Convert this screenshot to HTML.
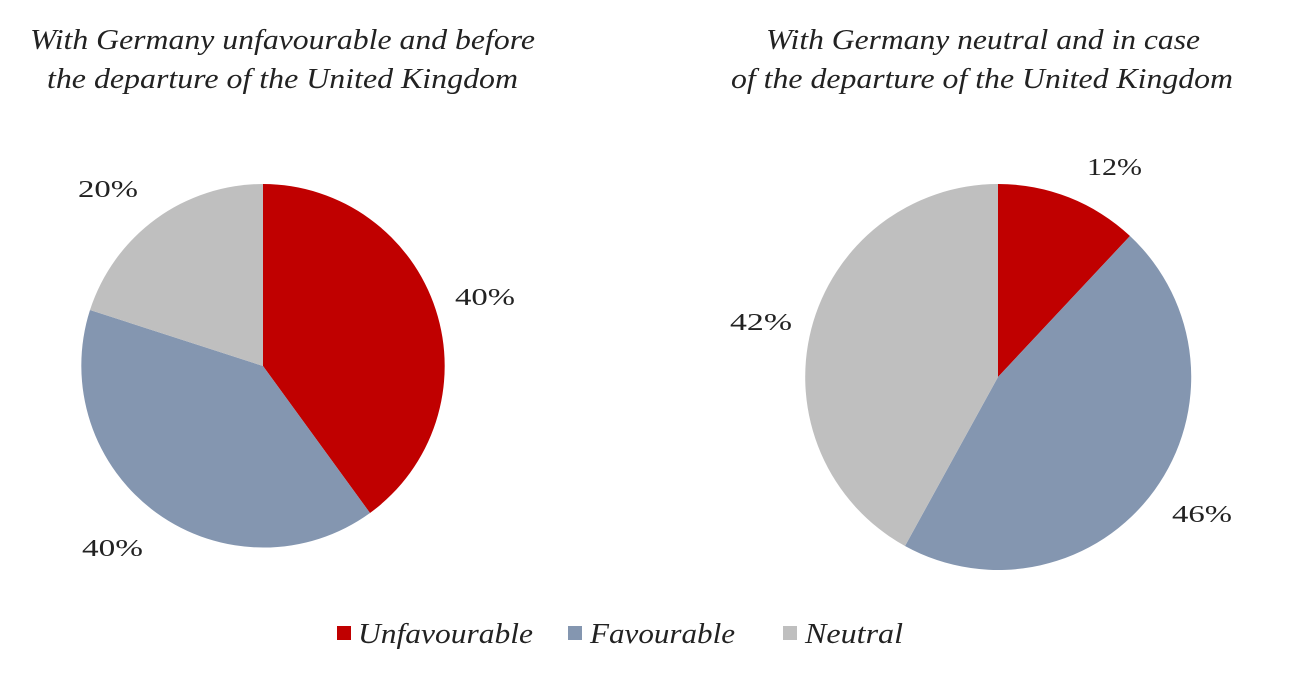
<!DOCTYPE html>
<html><head><style>
body{margin:0;background:#fff;}
svg text{font-family:"Liberation Serif",serif;fill:#222;}
</style></head><body>
<svg width="1301" height="683" viewBox="0 0 1301 683">
<g font-style="italic" font-size="28">
<text x="30" y="49" textLength="505" lengthAdjust="spacingAndGlyphs">With Germany unfavourable and before</text>
<text x="47" y="88" textLength="471" lengthAdjust="spacingAndGlyphs">the departure of the United Kingdom</text>
<text x="766" y="49" textLength="434" lengthAdjust="spacingAndGlyphs">With Germany neutral and in case</text>
<text x="731" y="88" textLength="502" lengthAdjust="spacingAndGlyphs">of the departure of the United Kingdom</text>
</g>
<path d="M263,366 L263,184 A182,182 0 0 1 370,513 Z" fill="#c00000"/>
<path d="M263,366 L370,513 A182,182 0 0 1 90,310 Z" fill="#8496b0"/>
<path d="M263,366 L90,310 A182,182 0 0 1 263,184 Z" fill="#bfbfbf"/>
<path d="M998,377 L998,184 A193,193 0 0 1 1130,236 Z" fill="#c00000"/>
<path d="M998,377 L1130,236 A193,193 0 0 1 905,546 Z" fill="#8496b0"/>
<path d="M998,377 L905,546 A193,193 0 0 1 998,184 Z" fill="#bfbfbf"/>
<g font-size="24">
<text x="78" y="197" textLength="60" lengthAdjust="spacingAndGlyphs">20%</text>
<text x="455" y="305" textLength="60" lengthAdjust="spacingAndGlyphs">40%</text>
<text x="82" y="556" textLength="61" lengthAdjust="spacingAndGlyphs">40%</text>
<text x="1087" y="175" textLength="55" lengthAdjust="spacingAndGlyphs">12%</text>
<text x="730" y="330" textLength="62" lengthAdjust="spacingAndGlyphs">42%</text>
<text x="1172" y="522" textLength="60" lengthAdjust="spacingAndGlyphs">46%</text>
</g>
<rect x="337" y="626" width="14" height="14" fill="#c00000"/>
<rect x="568" y="626" width="14" height="14" fill="#8496b0"/>
<rect x="783" y="626" width="14" height="14" fill="#bfbfbf"/>
<g font-style="italic" font-size="28">
<text x="358" y="643" textLength="175" lengthAdjust="spacingAndGlyphs">Unfavourable</text>
<text x="590" y="643" textLength="145" lengthAdjust="spacingAndGlyphs">Favourable</text>
<text x="805" y="643" textLength="98" lengthAdjust="spacingAndGlyphs">Neutral</text>
</g>
</svg>
</body></html>
